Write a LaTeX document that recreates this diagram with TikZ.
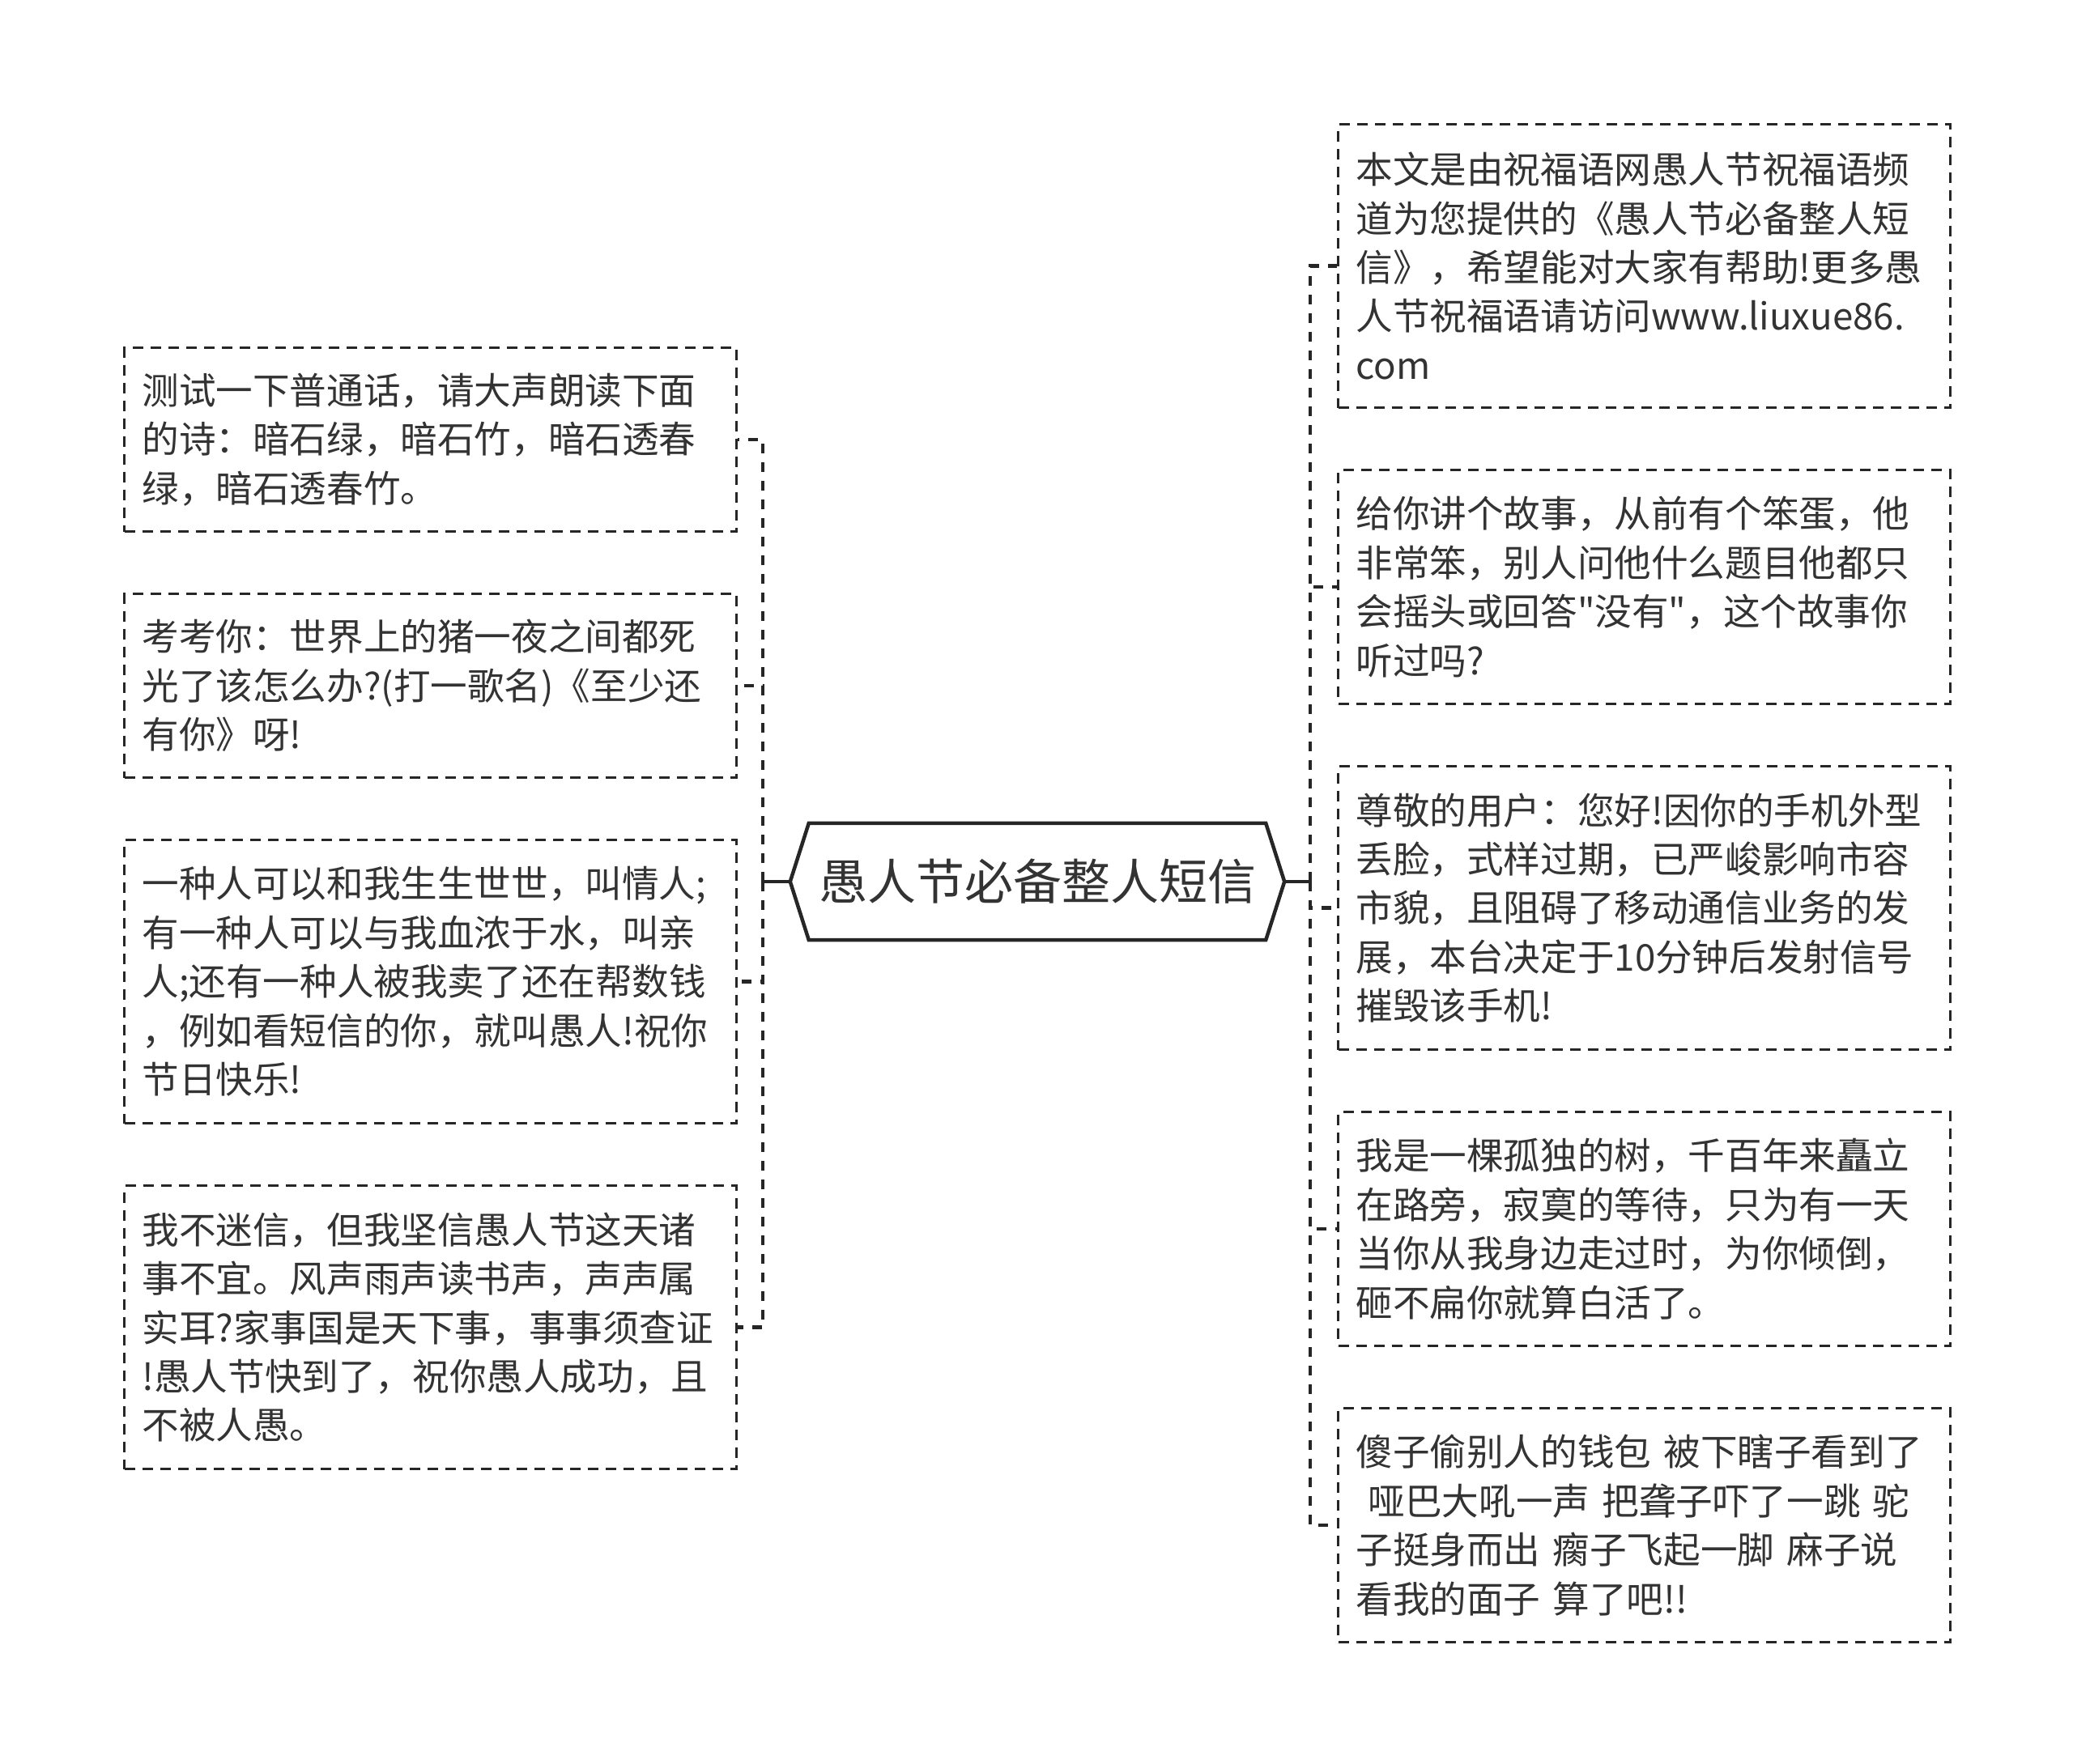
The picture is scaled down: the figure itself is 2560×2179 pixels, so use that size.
\documentclass[tikz,border=0pt]{standalone}
\usepackage{fontspec}
\newfontfamily\cjk{Noto Sans CJK SC}
\definecolor{ink}{HTML}{333333}
\definecolor{lineink}{HTML}{262626}
\tikzset{
  box/.style={draw=lineink, line width=3pt, dash pattern=on 13pt off 9pt, anchor=north west,
    minimum width=756pt, text width=712pt, inner xsep=22pt, inner ysep=0pt, align=left,
    text=ink, font=\cjk\fontsize{45.6pt}{60.4pt}\selectfont},
  conn/.style={draw=lineink, line width=4.5pt, dash pattern=on 12pt off 11pt},
  stub/.style={draw=lineink, line width=4.5pt},
  hexa/.style={draw=none, minimum width=564pt, minimum height=144pt, inner sep=0pt,
    text=ink, font=\cjk\fontsize{60pt}{70pt}\selectfont}
}
\begin{document}
\begin{tikzpicture}[x=1pt,y=-1pt]
\useasboundingbox[fill=white] (0,0) rectangle (2560,2179);
% central topic
\node[hexa] (c) at (1281,1089) {愚人节必备整人短信};
\draw[lineink, line width=4.5pt, line join=miter]
  (c.north west) -- (c.north east) -- ([xshift=23pt]c.east) -- (c.south east)
  -- (c.south west) -- ([xshift=-23pt]c.west) -- cycle;
\coordinate (cl) at ([xshift=-23pt]c.west);
\coordinate (cr) at ([xshift=23pt]c.east);
\coordinate (lt) at (942,1089);
\coordinate (rt) at (1618,1089);
% left boxes
\node[box, minimum height=227pt] (L1) at (152,428) {测试一下普通话，请大声朗读下面\\的诗：暗石绿，暗石竹，暗石透春\\绿，暗石透春竹。};
\node[box, minimum height=227pt] (L2) at (152,732) {考考你：世界上的猪一夜之间都死\\光了该怎么办?(打一歌名)《至少还\\有你》呀!};
\node[box, minimum height=350pt] (L3) at (152,1036) {一种人可以和我生生世世，叫情人;\\有一种人可以与我血浓于水，叫亲\\人;还有一种人被我卖了还在帮数钱\\，例如看短信的你，就叫愚人!祝你\\节日快乐!};
\node[box, minimum height=350pt] (L4) at (152,1463) {我不迷信，但我坚信愚人节这天诸\\事不宜。风声雨声读书声，声声属\\实耳?家事国是天下事，事事须查证\\!愚人节快到了，祝你愚人成功，且\\不被人愚。};
% right boxes
\node[box, minimum height=350pt] (R1) at (1651,152) {本文是由祝福语网愚人节祝福语频\\道为您提供的《愚人节必备整人短\\信》，希望能对大家有帮助!更多愚\\人节祝福语请访问www.liuxue86.\\com};
\node[box, minimum height=289pt] (R2) at (1651,579) {给你讲个故事，从前有个笨蛋，他\\非常笨，别人问他什么题目他都只\\会摇头或回答"没有"，这个故事你\\听过吗?};
\node[box, minimum height=350pt] (R3) at (1651,945) {尊敬的用户：您好!因你的手机外型\\丢脸，式样过期，已严峻影响市容\\市貌，且阻碍了移动通信业务的发\\展，本台决定于10分钟后发射信号\\摧毁该手机!};
\node[box, minimum height=289pt] (R4) at (1651,1372) {我是一棵孤独的树，千百年来矗立\\在路旁，寂寞的等待，只为有一天\\当你从我身边走过时，为你倾倒，\\砸不扁你就算白活了。};
\node[box, minimum height=289pt] (R5) at (1651,1738) {傻子偷别人的钱包 被下瞎子看到了\\~哑巴大吼一声 把聋子吓了一跳 驼\\子挺身而出 瘸子飞起一脚 麻子说\\看我的面子 算了吧!!};
% connectors
\draw[stub] (cl) -- (lt);
\draw[stub] (cr) -- (rt);
\foreach \n in {L1,L2,L3,L4}{
  \draw[conn] (lt) |- (\n.east);
}
\foreach \n in {R1,R2,R3,R4,R5}{
  \draw[conn] (rt) |- (\n.west);
}
\end{tikzpicture}
\end{document}
